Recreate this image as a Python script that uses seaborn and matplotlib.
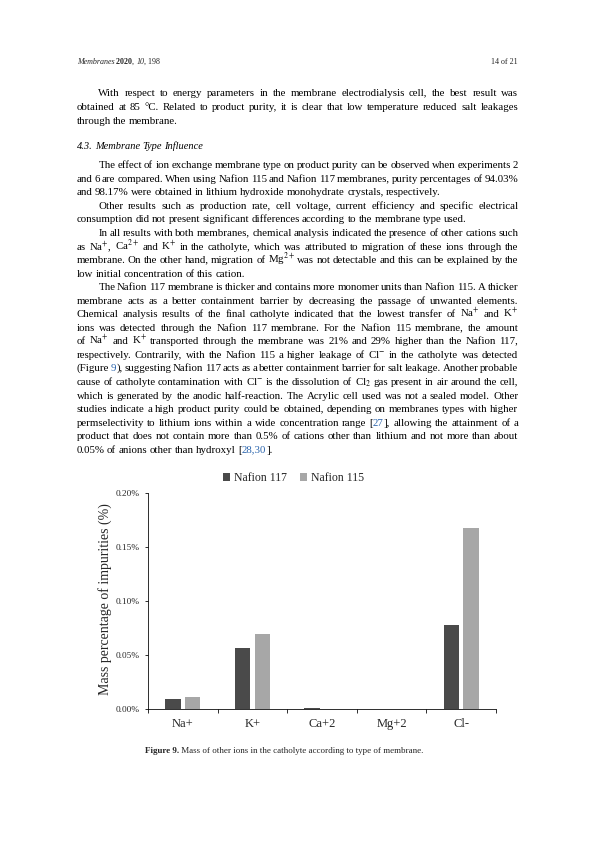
import numpy as np
import pandas as pd
import seaborn as sns
import matplotlib
matplotlib.use('Agg')
import matplotlib.pyplot as plt
from matplotlib.font_manager import fontManager, get_font, FontProperties
from matplotlib.backends.backend_agg import get_hinting_flag

# chart data (mass % of impurities in catholyte)
ions = ['Na+', 'K+', 'Ca+2', 'Mg+2', 'Cl-']
membranes = ['Nafion 117', 'Nafion 115']
nafion_117 = [0.0093, 0.0568, 0.0005, 0.0, 0.0778]
nafion_115 = [0.0107, 0.0697, 0.0003, 0.0, 0.1676]
y_ticks = [0.0, 0.05, 0.10, 0.15, 0.20]

# page text, one entry per printed line: (text, indent, justify)
# words wrapped in |..| are link-blue
para_1 = [
    ("With respect to energy parameters in the membrane electrodialysis cell, the best result was", True, True),
    ("obtained at 85 °C. Related to product purity, it is clear that low temperature reduced salt leakages", False, True),
    ("through the membrane.", False, False),
]
para_2 = [
    ("The effect of ion exchange membrane type on product purity can be observed when experiments 2", True, True),
    ("and 6 are compared. When using Nafion 115 and Nafion 117 membranes, purity percentages of 94.03%", False, True),
    ("and 98.17% were obtained in lithium hydroxide monohydrate crystals, respectively.", False, False),
    ("Other results such as production rate, cell voltage, current efficiency and specific electrical", True, True),
    ("consumption did not present significant differences according to the membrane type used.", False, False),
    ("In all results with both membranes, chemical analysis indicated the presence of other cations such", True, True),
    ("as Na$^{+}$, Ca$^{2+}$ and K$^{+}$ in the catholyte, which was attributed to migration of these ions through the", False, True),
    ("membrane. On the other hand, migration of Mg$^{2+}$ was not detectable and this can be explained by the", False, True),
    ("low initial concentration of this cation.", False, False),
    ("The Nafion 117 membrane is thicker and contains more monomer units than Nafion 115. A thicker", True, True),
    ("membrane acts as a better containment barrier by decreasing the passage of unwanted elements.", False, True),
    ("Chemical analysis results of the final catholyte indicated that the lowest transfer of Na$^{+}$ and K$^{+}$", False, True),
    ("ions was detected through the Nafion 117 membrane. For the Nafion 115 membrane, the amount", False, True),
    ("of Na$^{+}$ and K$^{+}$ transported through the membrane was 21% and 29% higher than the Nafion 117,", False, True),
    ("respectively. Contrarily, with the Nafion 115 a higher leakage of Cl$^{-}$ in the catholyte was detected", False, True),
    ("(Figure |9|), suggesting Nafion 117 acts as a better containment barrier for salt leakage. Another probable", False, True),
    ("cause of catholyte contamination with Cl$^{-}$ is the dissolution of Cl$_{2}$ gas present in air around the cell,", False, True),
    ("which is generated by the anodic half-reaction. The Acrylic cell used was not a sealed model. Other", False, True),
    ("studies indicate a high product purity could be obtained, depending on membranes types with higher", False, True),
    ("permselectivity to lithium ions within a wide concentration range [|27|], allowing the attainment of a", False, True),
    ("product that does not contain more than 0.5% of cations other than lithium and not more than about", False, True),
    ("0.05% of anions other than hydroxyl [|28,30|].", False, False),
]

W, H = 595, 842
sns.set_style('ticks')
plt.rcParams['font.family'] = ['Liberation Serif', 'DejaVu Serif']
plt.rcParams['mathtext.fontset'] = 'stix'

fig = plt.figure(figsize=(W / 72, H / 72), dpi=72)
renderer = fig.canvas.get_renderer()

BLUE = '#2a64ad'
BODY = 10.9
LEFT, RIGHT, INDENT = 76.7, 518.3, 98.3


def baseline_shift(s, size, style, weight):
    # Agg rounds the glyph bitmap by its descent; work out that offset so
    # that every word on a line ends up on the same pixel baseline
    if '$' in s:
        return 0.0
    try:
        prop = FontProperties(family=plt.rcParams['font.family'], size=size,
                              style=style, weight=weight)
        font = get_font(fontManager._find_fonts_by_props(prop))
        font.clear()
        font.set_size(size, 72)
        font.set_text(s, 0, flags=get_hinting_flag())
        h = font.get_width_height()[1]
        d = font.get_descent()
        return h // 64 - np.floor((h - d) / 64) - d / 64
    except Exception:
        return 0.0


def put(x, y, s, size, style='normal', weight='normal', **kw):
    yb = round(y) + baseline_shift(s, size, style, weight)
    return fig.text(x / W, 1 - yb / H, s, va='baseline', fontsize=size,
                    style=style, weight=weight, **kw)


def width(t):
    return t.get_window_extent(renderer).width


def write_line(y, line, indent=False, justify=True, size=BODY, style='normal'):
    x0 = INDENT if indent else LEFT
    words = []
    for tok in line.split(' '):
        segs = []
        for i, p in enumerate(tok.split('|')):
            if p == '':
                continue
            t = put(0, y, p, size, style, color=BLUE if i % 2 else 'black')
            segs.append((t, width(t)))
        words.append(segs)
    total = sum(w for segs in words for _, w in segs)
    gap = size * 0.22
    if justify and len(words) > 1:
        gap = (RIGHT - x0 - total) / (len(words) - 1)
    x = x0
    for segs in words:
        for t, w in segs:
            t.set_x(x / W)
            x += w
        x += gap


def write_runs(x, y, runs, size):
    for s, kw in runs:
        t = put(x, y, s, size, **kw)
        x += width(t)


# header
write_runs(LEFT, 63.5, [('Membranes', dict(style='italic')), (' 2020', dict(weight='bold')),
                        (', ', {}), ('10', dict(style='italic')), (', 198', {})], 8)
put(517.7, 63.5, '14 of 21', 8, ha='right')

# body text
for i, (s, ind, jus) in enumerate(para_1):
    write_line(96.5 + 14.0 * i, s, ind, jus)
write_line(149.3, '4.3. Membrane Type Influence', False, False, size=10.4, style='italic')
for i, (s, ind, jus) in enumerate(para_2):
    write_line(168.2 + 13.55 * i, s, ind, jus)

# chart
ax = fig.add_axes([148 / W, 1 - 709 / H, 348 / W, 216 / H])
df = pd.DataFrame({
    'ion': ions * 2,
    'value': nafion_117 + nafion_115,
    'membrane': [membranes[0]] * len(ions) + [membranes[1]] * len(ions),
})
sns.barplot(data=df, x='ion', y='value', hue='membrane', order=ions, hue_order=membranes,
            palette=['#4a4a4a', '#a7a7a7'], width=0.57, gap=0.23, saturation=1,
            errorbar=None, linewidth=0, ax=ax)

ax.set_xlim(-0.5, len(ions) - 0.5)
ax.set_ylim(0, 0.2)
ax.set_yticks(y_ticks)
ax.set_yticklabels([f'{v:.2f}%' for v in y_ticks])
ax.set_xticks(np.arange(-0.5, len(ions), 1), minor=True)
ax.tick_params(axis='y', length=3, width=0.8, pad=5, labelsize=9.3, color='black')
ax.tick_params(axis='x', which='major', length=0, pad=9, labelsize=12.5)
ax.tick_params(axis='x', which='minor', length=4, width=0.8, color='black', bottom=True)
ax.set_xlabel('')
ax.set_ylabel('Mass percentage of impurities (%)', fontsize=13.9)
ax.yaxis.set_label_coords(-0.103, 0.51)
for side in ['top', 'right']:
    ax.spines[side].set_visible(False)
for side in ['left', 'bottom']:
    ax.spines[side].set_color('black')
    ax.spines[side].set_linewidth(0.8)

handles, labels = ax.get_legend_handles_labels()
ax.legend(handles, labels, ncol=2, frameon=False, loc='center',
          bbox_to_anchor=(293.5 / W, 1 - 478 / H), bbox_transform=fig.transFigure,
          fontsize=11.7, handlelength=0.6, handleheight=0.6, handletextpad=0.35,
          columnspacing=1.1)

# caption
write_runs(145, 753, [('Figure 9.', dict(weight='bold')),
                      (' Mass of other ions in the catholyte according to type of membrane.', {})], 9)

fig.savefig('out.png', dpi=72)
